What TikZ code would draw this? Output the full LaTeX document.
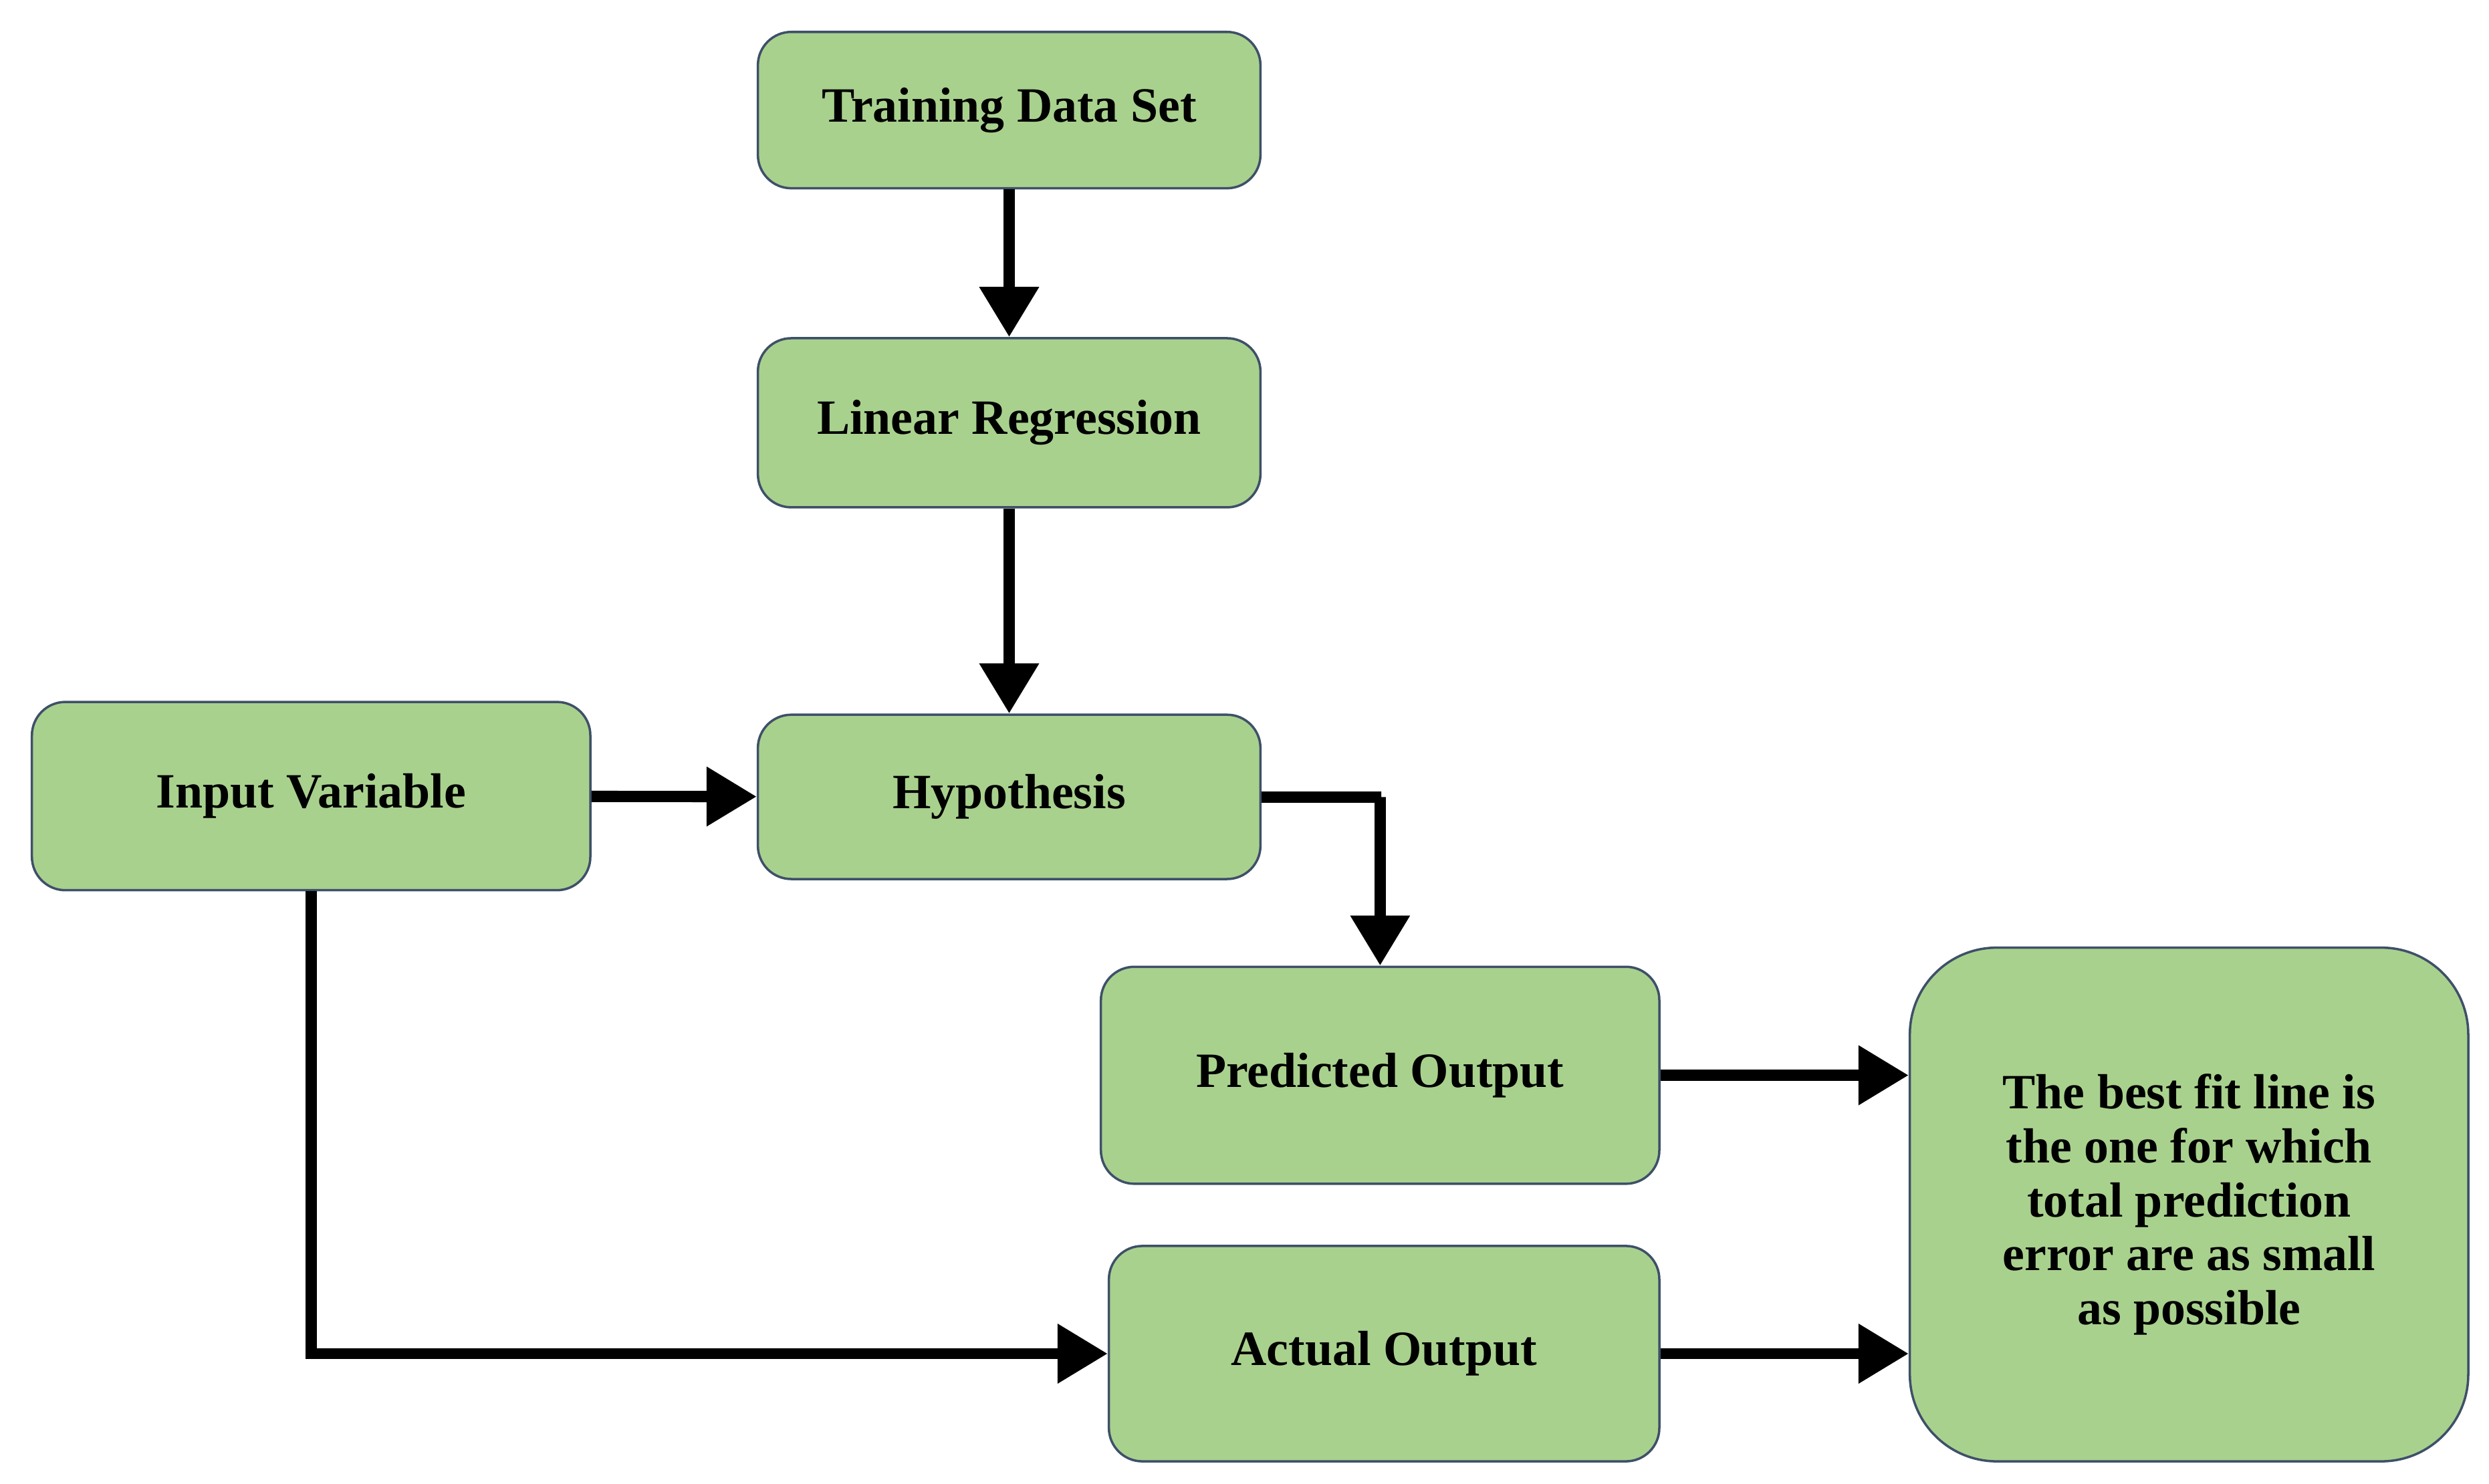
\documentclass[tikz,border=0pt]{standalone}
\usepackage{fontspec}
\setmainfont{Liberation Serif}
\usetikzlibrary{arrows.meta}
\definecolor{boxfill}{HTML}{A9D18E}
\definecolor{boxline}{HTML}{3E5068}
\begin{document}
\begin{tikzpicture}[x=0.02387cm,y=-0.02387cm,
  box/.style={draw=boxline,fill=boxfill,line width=1pt,rounded corners=0.5cm,inner sep=0pt,
    font=\fontsize{21}{25}\selectfont\bfseries,align=center},
  arr/.style={line width=4.8pt,-{Triangle[length=0.75cm,width=0.85cm]}}]
\useasboundingbox (0,0) rectangle (1560,930);
\node[box,minimum width=315*0.02387cm,minimum height=98*0.02387cm] (t) at (632.5,69) {Training Data Set};
\node[box,minimum width=315*0.02387cm,minimum height=106*0.02387cm] (l) at (632.5,265) {Linear Regression};
\node[box,minimum width=315*0.02387cm,minimum height=103*0.02387cm] (h) at (632.5,499.5) {Hypothesis};
\node[box,minimum width=350*0.02387cm,minimum height=118*0.02387cm] (i) at (195,499) {Input Variable};
\node[box,minimum width=350*0.02387cm,minimum height=136*0.02387cm] (p) at (865,674) {Predicted Output};
\node[box,minimum width=345*0.02387cm,minimum height=135*0.02387cm] (a) at (867.5,848.5) {Actual Output};
\node[box,rounded corners=1.3cm,minimum width=350*0.02387cm,minimum height=322*0.02387cm] (b) at (1372,755)
  {The best fit line is\\[-2pt] the one for which\\[-2pt] total prediction\\[-2pt] error are as small\\[-2pt] as possible};
\draw[arr] (t) -- (l);
\draw[arr] (l) -- (h);
\draw[arr] (i) -- (h);
\draw[arr] (h.east) -- ++(75,0) -| (p.north);
\draw[arr] (i.south) |- (a.west);
\draw[arr] (p.east) -- (b.west |- p.east);
\draw[arr] (a.east) -- (b.west |- a.east);
\end{tikzpicture}
\end{document}
